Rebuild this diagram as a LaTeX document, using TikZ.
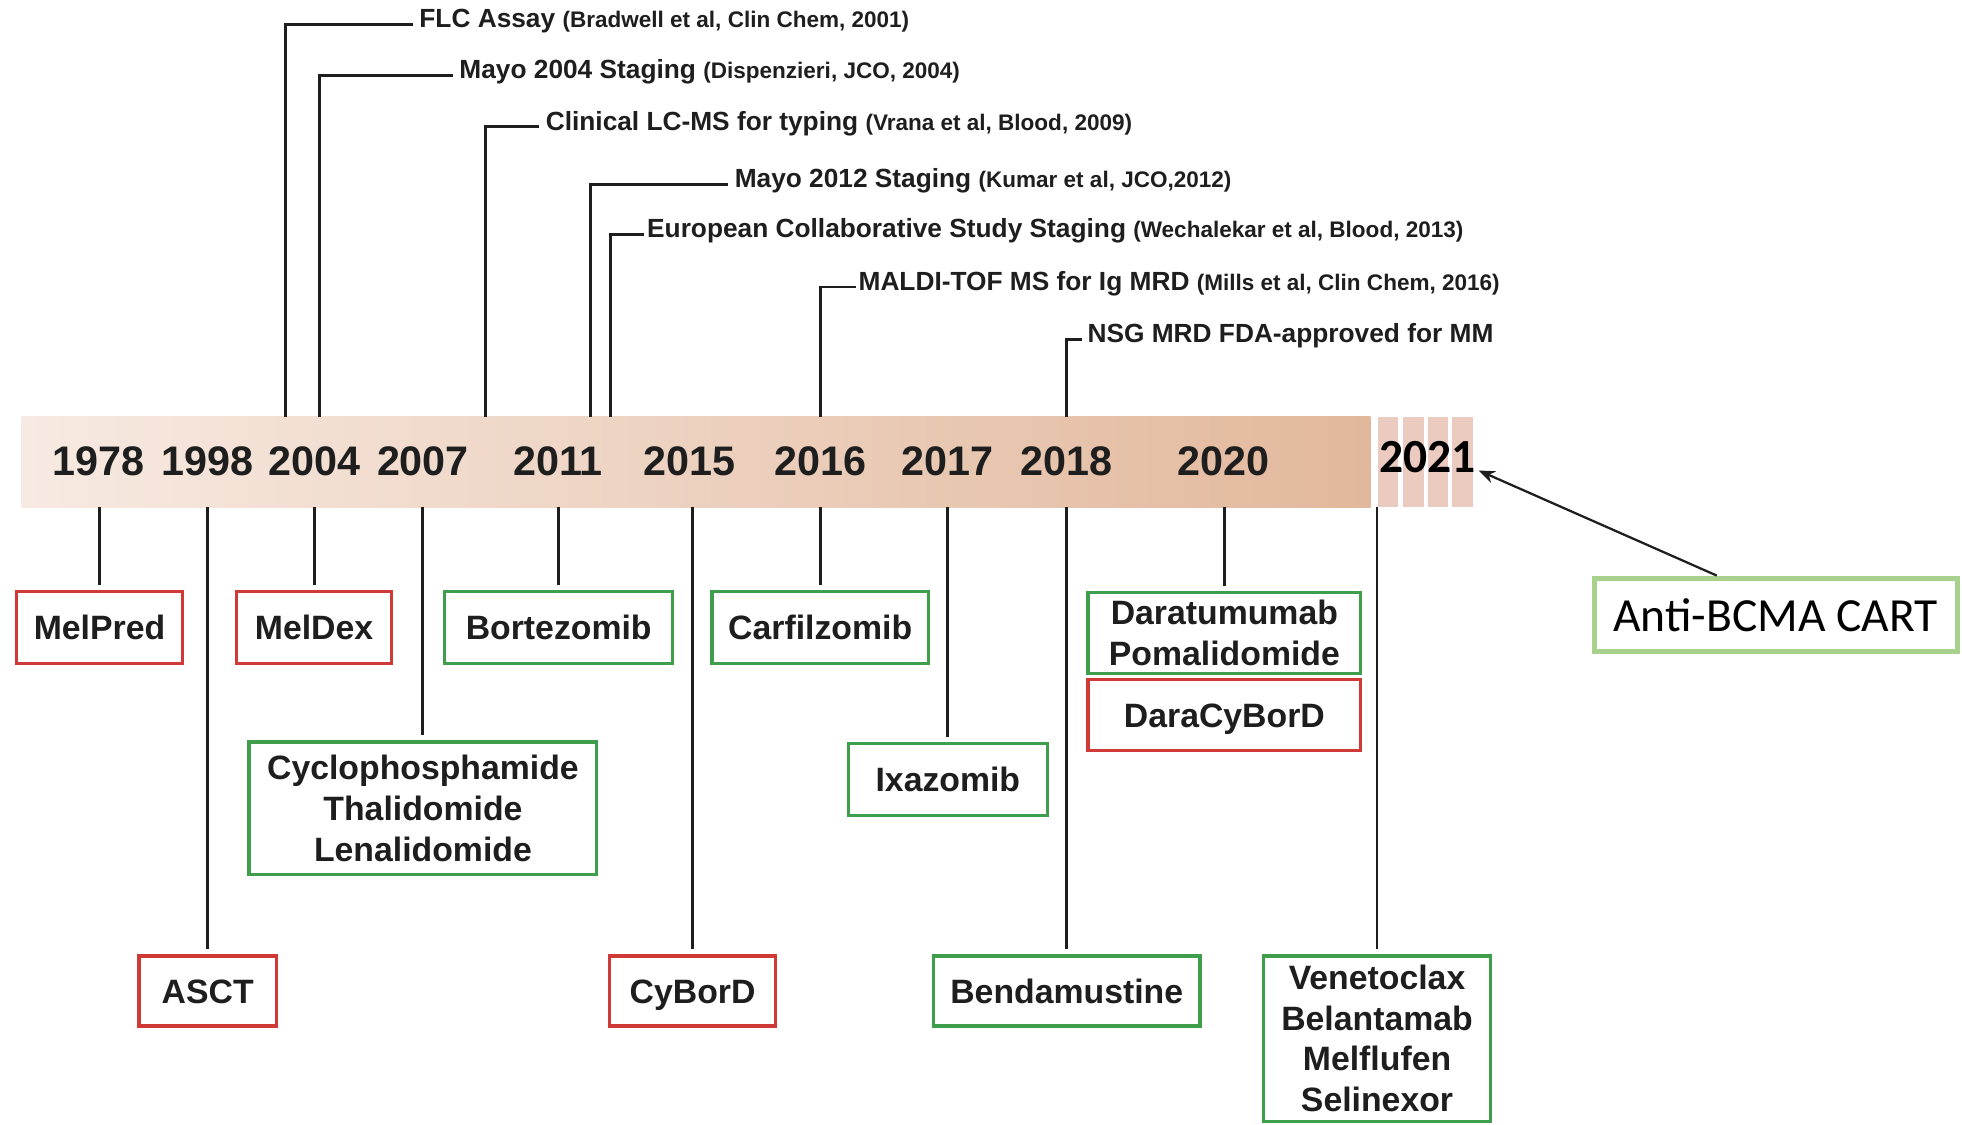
\documentclass[tikz,border=0pt]{standalone}
\usepackage{fontspec}
\setmainfont{Liberation Sans}
\newfontfamily\calib{Carlito}
\usetikzlibrary{arrows.meta}
\definecolor{boxred}{HTML}{D03A36}
\definecolor{boxgreen}{HTML}{3E9E4C}
\definecolor{cartgreen}{HTML}{A9D18E}
\definecolor{barL}{HTML}{F7EAE2}
\definecolor{barR}{HTML}{E2B89C}
\definecolor{stripecol}{HTML}{EBCAC0}
\definecolor{ink}{HTML}{1E1E1E}
\tikzset{
 drug/.style={draw=#1, line width=2.6pt, fill=white, align=center, inner sep=0pt,
   font=\fontsize{27}{32.5}\selectfont\bfseries, text=ink},
 redbox/.style={drug=boxred},
 greenbox/.style={drug=boxgreen},
 oneline/.style={text height=23pt, text depth=3.7pt},
 yearlbl/.style={font=\fontsize{33}{36}\selectfont\bfseries, text=ink, inner sep=0pt},
 conn/.style={draw=ink, line width=2.3pt},
 toplbl/.style={anchor=base west, inner sep=0pt, font=\fontsize{21}{24}\selectfont\bfseries, text=ink},
}
\newcommand{\citx}[1]{{\fontsize{18}{20}\selectfont #1}}
\begin{document}
\begin{tikzpicture}[x=1pt,y=-1pt]
\useasboundingbox (0,0) rectangle (1568,899);
\fill[white] (0,0) rectangle (1568,899);

% timeline bar
\node[minimum width=1078pt, minimum height=72pt, inner sep=0pt, left color=barL, right color=barR, anchor=north west] (bar) at (17,333) {};
\fill[stripecol] (1101,333) rectangle (1117,405);
\fill[stripecol] (1121,333) rectangle (1138,405);
\fill[stripecol] (1141,333) rectangle (1157,405);
\fill[stripecol] (1160,333) rectangle (1177,405);

% years
\node[yearlbl] (y1978) at (79,369) {1978};
\node[yearlbl] (y1998) at (166,369) {1998};
\node[yearlbl] (y2004) at (251,369) {2004};
\node[yearlbl] (y2007) at (338,369) {2007};
\node[yearlbl] (y2011) at (446,369) {2011};
\node[yearlbl] (y2015) at (551,369) {2015};
\node[yearlbl] (y2016) at (656,369) {2016};
\node[yearlbl] (y2017) at (757,369) {2017};
\node[yearlbl] (y2018) at (852,369) {2018};
\node[yearlbl] (y2020) at (978,369) {2020};
\node[font=\calib\bfseries\fontsize{38}{40}\selectfont, inner sep=0pt] (y2021) at (1141,365) {2021};

% top labels
\node[toplbl] (L1) at (335,22) {FLC Assay \citx{(Bradwell et al, Clin Chem, 2001)}};
\node[toplbl] (L2) at (367,63) {Mayo 2004 Staging \citx{(Dispenzieri, JCO, 2004)}};
\node[toplbl] (L3) at (436,104) {Clinical LC-MS for typing \citx{(Vrana et al, Blood, 2009)}};
\node[toplbl] (L4) at (587,150) {Mayo 2012 Staging \citx{(Kumar et al, JCO,2012)}};
\node[toplbl] (L5) at (517,190) {European Collaborative Study Staging \citx{(Wechalekar et al, Blood, 2013)}};
\node[toplbl] (L6) at (686,232) {MALDI-TOF MS for Ig MRD \citx{(Mills et al, Clin Chem, 2016)}};
\node[toplbl] (L7) at (869,274) {NSG MRD FDA-approved for MM};

\coordinate (t1) at (228,333);
\coordinate (t2) at (255,333);
\coordinate (t3) at (388,333);
\coordinate (t4) at (472,333);
\coordinate (t5) at (488,333);
\coordinate (t6) at (656,333);
\coordinate (t7) at (852,333);
\draw[conn] (t1) |- ([xshift=-5pt]L1.mid west);
\draw[conn] (t2) |- ([xshift=-5pt]L2.mid west);
\draw[conn] (t3) |- ([xshift=-5pt]L3.mid west);
\draw[conn] (t4) |- ([xshift=-5pt]L4.mid west);
\draw[conn] (t5) |- ([xshift=-2pt]L5.mid west);
\draw[conn] (t6) |- ([xshift=-2pt]L6.mid west);
\draw[conn] (t7) |- ([xshift=-4pt]L7.mid west);

% boxes
\node[redbox, oneline, minimum width=133pt, minimum height=57pt] (melpred) at (79.5,501.5) {MelPred};
\node[redbox, oneline, minimum width=124pt, minimum height=57pt] (meldex) at (251,501.5) {MelDex};
\node[greenbox, oneline, minimum width=182pt, minimum height=57pt] (bort) at (446.5,501.5) {Bortezomib};
\node[greenbox, oneline, minimum width=173pt, minimum height=57pt] (carf) at (655.5,501.5) {Carfilzomib};
\node[greenbox, minimum width=218pt, minimum height=65pt] (dara) at (978.5,506) {Daratumumab\\Pomalidomide};
\node[redbox, oneline, minimum width=218pt, minimum height=57pt] (daracy) at (978.5,571.5) {DaraCyBorD};
\node[greenbox, minimum width=278pt, minimum height=106pt] (cyclo) at (338,646) {Cyclophosphamide\\Thalidomide\\Lenalidomide};
\node[greenbox, oneline, minimum width=159pt, minimum height=58pt] (ixa) at (757.5,623) {Ixazomib};
\node[redbox, oneline, minimum width=110pt, minimum height=56pt] (asct) at (166,792) {ASCT};
\node[redbox, oneline, minimum width=133pt, minimum height=56pt] (cybord) at (553.5,792) {CyBorD};
\node[greenbox, oneline, minimum width=213pt, minimum height=56pt] (benda) at (852.5,792) {Bendamustine};
\node[greenbox, minimum width=181pt, minimum height=132pt] (vene) at (1100.5,830) {Venetoclax\\Belantamab\\Melflufen\\Selinexor};

% ticks below the bar
\foreach \b in {melpred,meldex,bort,carf,dara,cyclo,ixa,asct,cybord,benda,vene}
  \draw[conn] (\b.north |- bar.south) -- ([yshift=4pt]\b.north);

% Anti-BCMA CART
\node[draw=cartgreen, line width=4pt, minimum width=290pt, minimum height=59pt, inner sep=0pt,
  font=\calib\fontsize{38}{40}\selectfont, text=black] (cart) at (1419,491.5) {Anti-BCMA CART};
\draw[conn, line width=1.8pt, -{Stealth[length=13pt,width=10pt]}] ([xshift=-47pt]cart.north) -- ([xshift=2pt,yshift=-11pt]y2021.east);
\end{tikzpicture}
\end{document}
